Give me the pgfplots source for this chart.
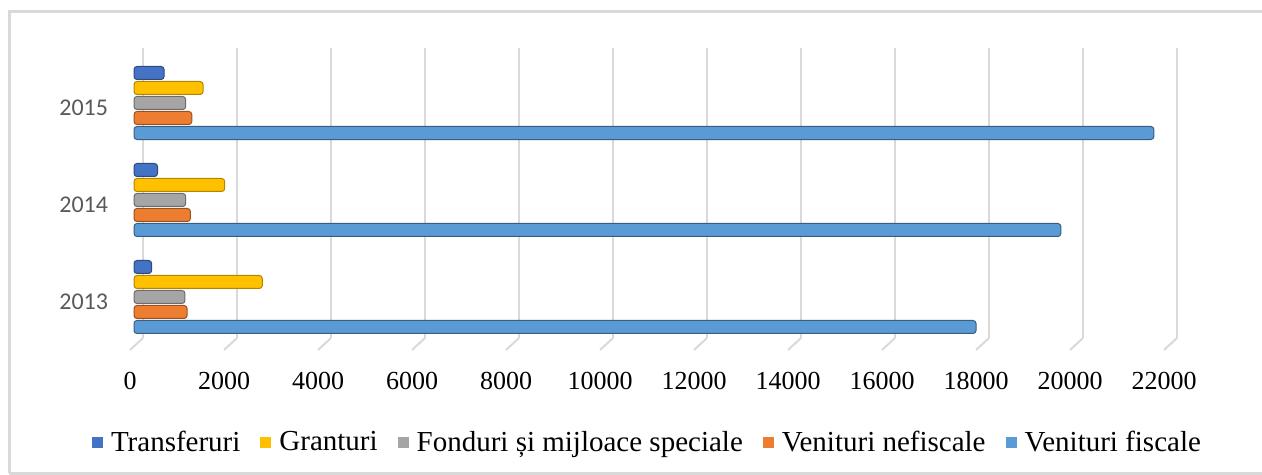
\documentclass[border=0pt]{standalone}
\usepackage{pgfplots}
\pgfplotsset{compat=1.18}
\usepackage{fontspec}
\setmainfont{Liberation Serif}
\newfontfamily\carlito{Carlito}
\definecolor{cTr}{HTML}{4472C4}
\definecolor{cGr}{HTML}{FFC000}
\definecolor{cFo}{HTML}{A5A5A5}
\definecolor{cNe}{HTML}{ED7D31}
\definecolor{cFi}{HTML}{5B9BD5}
\definecolor{gridGray}{HTML}{D9D9D9}
\definecolor{borderGray}{HTML}{D9D9D9}
\definecolor{labelGray}{HTML}{595959}
\begin{document}
\begin{tikzpicture}
\useasboundingbox (0,0) rectangle (631pt,237.5pt);
\draw[borderGray, line width=1.5pt] (4.5pt,0.75pt) -- (4.5pt,231.5pt) -- (631pt,231.5pt);
\draw[borderGray, line width=1.5pt] (4.5pt,0.75pt) -- (631pt,0.75pt);

% back wall grid (offset for the 3-D look)
\begin{axis}[
  at={(71.5pt,68.5pt)}, anchor=south west, scale only axis,
  width=517pt, height=145pt,
  xmin=0, xmax=22000, ymin=0, ymax=1, scaled x ticks=false,
  xtick={0,2000,4000,6000,8000,10000,12000,14000,16000,18000,20000,22000}, xticklabels={}, ytick=\empty,
  xmajorgrids, major grid style={draw=gridGray, line width=1pt},
  axis line style={draw=none}, tick style={draw=none}, clip=false]
\pgfplotsinvokeforeach{0,2000,4000,6000,8000,10000,12000,14000,16000,18000,20000,22000}{\draw[gridGray, line width=1pt] (axis cs:#1,0) -- ++(-6.5pt,-6pt);}
\end{axis}

\begin{axis}[
  at={(67pt,64.75pt)}, anchor=south west, scale only axis,
  width=517pt, height=145.5pt,
  xmin=0, xmax=22000, ymin=-0.5, ymax=2.5,
  xbar, bar width=6.5pt, clip=false,
  scaled x ticks=false,
  xtick={0,2000,4000,6000,8000,10000,12000,14000,16000,18000,20000,22000},
  ytick={0,1,2}, yticklabels={2013,2014,2015},
  axis line style={draw=none}, tick style={draw=none},
  /pgf/number format/1000 sep={},
  /pgf/number format/assume math mode=true,
  xticklabel style={font=\fontsize{13}{15}\selectfont, anchor=center, inner sep=0pt, yshift=-17.75pt, xshift=-2pt},
  yticklabel style={font=\carlito\fontsize{12}{14}\selectfont, text=labelGray, anchor=east, inner sep=0pt, xshift=-8.5pt, yshift=-2.35pt},
  legend columns=5,
  legend cell align=left,
  legend style={at={(0.4966,-0.334)}, anchor=center, draw=none, fill=none,
    font=\fontsize{14.5}{17}\selectfont, inner sep=0pt,
    nodes={inner xsep=1pt, inner ysep=0pt},
    /tikz/every even column/.append style={column sep=9pt}},
]
\addplot[bar shift=15pt, fill=cTr, draw=cTr!65!black, line width=0.5pt, rounded corners=1.5pt,
  legend image code/.code={\fill[cTr, sharp corners] (0pt,-2.5pt) rectangle (5pt,2.5pt); \path (8pt,0pt);}]
  coordinates {(375,0) (500,1) (640,2)};
\addlegendentry{Transferuri}
\addplot[bar shift=7.5pt, fill=cGr, draw=cGr!70!black, line width=0.5pt, rounded corners=1.5pt,
  legend image code/.code={\fill[cGr, sharp corners] (0pt,-2.5pt) rectangle (5pt,2.5pt); \path (8pt,0pt);}]
  coordinates {(2730,0) (1930,1) (1470,2)};
\addlegendentry{Granturi}
\addplot[bar shift=0pt, fill=cFo, draw=cFo!65!black, line width=0.5pt, rounded corners=1.5pt,
  legend image code/.code={\fill[cFo, sharp corners] (0pt,-2.5pt) rectangle (5pt,2.5pt); \path (8pt,0pt);}]
  coordinates {(1085,0) (1100,1) (1100,2)};
\addlegendentry{Fonduri și mijloace speciale}
\addplot[bar shift=-7.5pt, fill=cNe, draw=cNe!65!black, line width=0.5pt, rounded corners=1.5pt,
  legend image code/.code={\fill[cNe, sharp corners] (0pt,-2.5pt) rectangle (5pt,2.5pt); \path (8pt,0pt);}]
  coordinates {(1130,0) (1200,1) (1230,2)};
\addlegendentry{Venituri nefiscale}
\addplot[bar shift=-15pt, fill=cFi, draw=cFi!60!black, line width=0.5pt, rounded corners=1.5pt,
  legend image code/.code={\fill[cFi, sharp corners] (0pt,-2.5pt) rectangle (5pt,2.5pt); \path (8pt,0pt);}]
  coordinates {(17915,0) (19720,1) (21700,2)};
\addlegendentry{Venituri fiscale}
\end{axis}
\end{tikzpicture}
\end{document}
